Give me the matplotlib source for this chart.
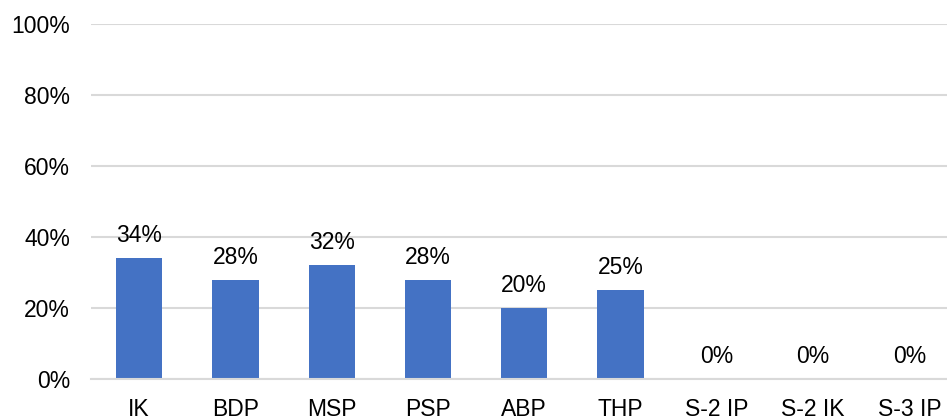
import matplotlib
matplotlib.use("Agg")
import matplotlib.pyplot as plt

categories = ["IK", "BDP", "MSP", "PSP", "ABP", "THP", "S-2 IP", "S-2 IK", "S-3 IP"]
values = [34, 28, 32, 28, 20, 25, 0, 0, 0]
yticks = [0, 20, 40, 60, 80, 100]

plt.rcParams['font.family'] = ['Liberation Sans', 'DejaVu Sans']
FS = 16.5

fig = plt.figure(figsize=(9.47, 4.2), dpi=100)
ax = fig.add_axes([91/947, 1 - 379/420, (947-91)/947, (379-24)/420])

x = list(range(len(categories)))
ax.bar(x, values, width=0.48, color="#4472c4", zorder=3)
for xi, v in zip(x, values):
    ax.annotate(f"{v}%", (xi, v), xytext=(0, 11.5), textcoords="offset points",
                ha="center", va="baseline", fontsize=FS, color="#000000")

ax.set_ylim(0, 100)
ax.set_xlim(-0.5, 8.39)
ax.set_yticks(yticks)
ax.set_yticklabels([f"{t}%" for t in yticks], fontsize=FS)
ax.set_xticks(x)
ax.set_xticklabels(categories, fontsize=FS)
ax.yaxis.grid(True, color="#d9d9d9", linewidth=1.5, zorder=0)
ax.tick_params(axis="x", length=0, pad=14)
ax.tick_params(axis="y", length=0, pad=15)
for s in ["top", "right", "left"]:
    ax.spines[s].set_visible(False)
ax.spines["bottom"].set_color("#d9d9d9")
ax.spines["bottom"].set_linewidth(1.5)
ax.spines["bottom"].set_zorder(4)

fig.savefig("out.png", dpi=100)
